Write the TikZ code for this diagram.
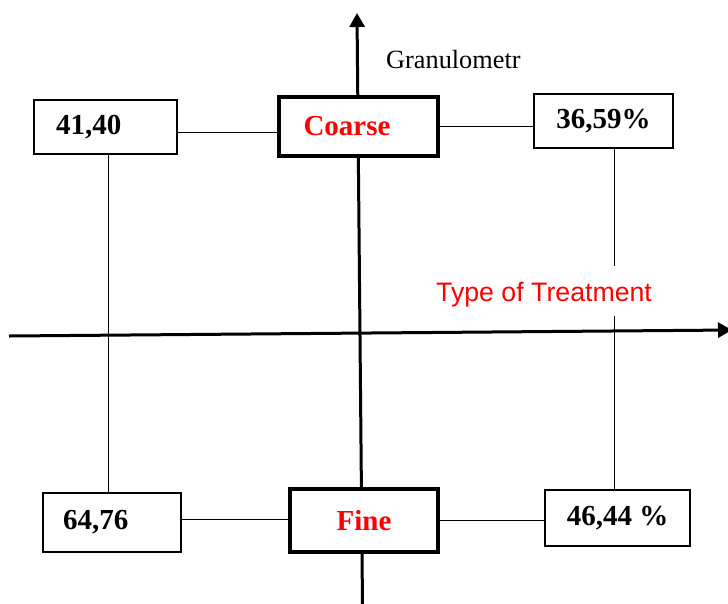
\documentclass[tikz,border=0pt]{standalone}
\usepackage{fontspec}
\setmainfont{Liberation Serif}
\newfontfamily\arialfont{Liberation Sans}
\usetikzlibrary{arrows.meta}
\tikzset{
  valbox/.style={draw, fill=white, line width=1.5pt, inner ysep=0pt, font=\fontsize{29}{32}\selectfont\bfseries},
  sizebox/.style={valbox, line width=3.5pt, text=red},
  axis/.style={line width=3pt, -{Triangle[width=15pt,length=14pt]}},
  link/.style={line width=1pt}
}
\begin{document}
\begin{tikzpicture}[x=1pt,y=-1pt]
\useasboundingbox (0,0) rectangle (728,603);
\coordinate(xfrom) at (9,336);
\coordinate(xto) at (732,330);
\coordinate(yfrom) at (362.5,606);
\coordinate(yto) at (357,13);
\draw[axis](xfrom) -- (xto);
\draw[axis](yfrom) -- (yto);
%
\node[sizebox, minimum width=159pt, minimum height=59pt, text width=110pt, inner xsep=23pt, align=left](coarse) at (358.5,126.5) {Coarse};
\node[sizebox, minimum width=148pt, minimum height=63pt](fine) at (364,520.5) {Fine};
\node[valbox, line width=2pt, minimum height=54pt, text width=99pt, inner xsep=22pt, align=left](coarseleft) at (105.5,127) {41,40};
\node[valbox, minimum width=139pt, minimum height=54pt](coarseright) at (603.5,121) {36,59\%};
\node[valbox, minimum height=59pt, text width=98pt, inner xsep=20pt, align=left](fineleft) at (112,522.5) {64,76};
\node[valbox, minimum width=145pt, minimum height=56pt](fineright) at (617.5,518) {46,44 \%};
%
\draw[link]([yshift=-5pt]coarseleft.east) -- ([yshift=-5pt]coarseleft.east -| coarse.west);
\draw[link](coarse.east) -- (coarse.east -| coarseright.west);
\draw[link]([yshift=3.5pt]fineleft.east) -- ([yshift=3.5pt]fineleft.east -| fine.west);
\draw[link](fine.east) -- (fine.east -| fineright.west);
\draw[link]([xshift=2.5pt]coarseleft.south) -- ([xshift=2.5pt]coarseleft.south |- fineleft.north);
\draw[link]([xshift=10.5pt]coarseright.south) -- ([xshift=10.5pt]coarseright.south |- fineright.north);
%
\node[anchor=base west, inner sep=0pt, font=\fontsize{26.3}{30}\selectfont](granlabel) at (386,68) {Granulometr};
\node[anchor=base west, fill=white, text=red, font=\arialfont\fontsize{26.7}{30}\selectfont, text height=26pt, text depth=6pt, inner ysep=9pt, inner xsep=2pt](treatlabel) at (434,301) {Type of Treatment};
\end{tikzpicture}
\end{document}
